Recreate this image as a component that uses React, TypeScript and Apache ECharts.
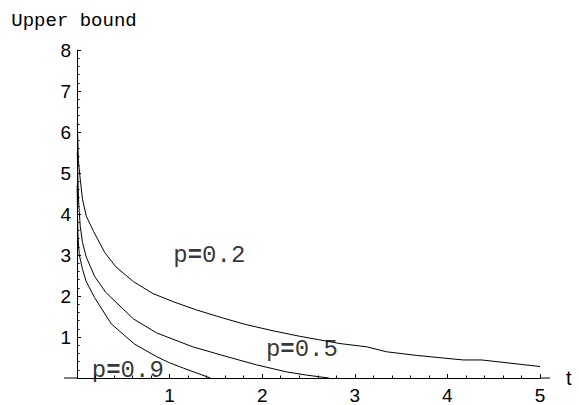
import React, { useEffect, useRef } from 'react';
import * as echarts from 'echarts';

// Curve p = 0.2
const p02T = [0.004, 0.015, 0.035, 0.06, 0.1, 0.18, 0.3, 0.42, 0.61, 0.82, 1.04, 1.29, 1.58, 1.83, 2.12, 2.4, 2.62, 2.84, 3.13, 3.34, 3.67, 4.17, 4.37, 5.0];
const p02Y = [6.2, 5.3, 4.85, 4.35, 3.95, 3.57, 3.06, 2.71, 2.35, 2.06, 1.86, 1.66, 1.46, 1.3, 1.15, 1.02, 0.93, 0.84, 0.76, 0.64, 0.55, 0.44, 0.44, 0.28];
// Curve p = 0.5
const p05T = [0.003, 0.01, 0.02, 0.035, 0.06, 0.1, 0.19, 0.31, 0.61, 0.86, 1.25, 1.62, 1.94, 2.26, 2.48, 2.72];
const p05Y = [5.5, 4.8, 4.2, 3.7, 3.3, 2.95, 2.48, 2.09, 1.44, 1.1, 0.76, 0.52, 0.32, 0.15, 0.07, 0];
// Curve p = 0.9
const p09T = [0.002, 0.006, 0.012, 0.025, 0.06, 0.1, 0.19, 0.37, 0.62, 0.86, 1.0, 1.15, 1.44];
const p09Y = [4.7, 3.9, 3.4, 3.0, 2.65, 2.35, 1.96, 1.32, 0.83, 0.52, 0.37, 0.24, 0];

// Curve annotations
const labelTexts = ['0.2', '0.5', '0.9'];
const labelT = [1.04, 2.04, 0.16];
const labelY = [3.0, 0.69, 0.19];

// Axes
const xMin = 0;
const xMax = 5;
const yMin = 0;
const yMax = 8;
const xAxisName = 't';
const yAxisName = 'Upper bound';

const zip = (t: number[], y: number[]) => t.map((v, i) => [v, y[i]]);

export default function App() {
  const ref = useRef<HTMLDivElement>(null);
  useEffect(() => {
    if (!ref.current) return;
    const chart = echarts.init(ref.current, null, { renderer: 'svg' });
    const lineStyle = { color: '#000', width: 1 };
    const mkLine = (name: string, t: number[], y: number[]) => ({
      name,
      type: 'line',
      data: zip(t, y),
      symbol: 'none',
      smooth: false,
      lineStyle,
      silent: true,
    });
    chart.setOption({
      animation: false,
      backgroundColor: '#fff',
      grid: { left: 77, right: 39, top: 50, bottom: 27, containLabel: false },
      xAxis: {
        type: 'value',
        min: xMin,
        max: xMax,
        interval: 1,
        name: xAxisName,
        nameLocation: 'end',
        nameGap: 26,
        nameTextStyle: { fontFamily: 'Liberation Sans', fontSize: 20, color: '#000', verticalAlign: 'middle' },
        axisLine: { show: true, onZero: false, lineStyle: { color: '#000', width: 1 } },
        axisTick: { show: true, inside: true, length: 4, lineStyle: { color: '#000' } },
        minorTick: { show: true, splitNumber: 5, length: 2.5, lineStyle: { color: '#000' } },
        axisLabel: {
          fontFamily: 'Liberation Sans',
          fontSize: 19,
          color: '#000',
          margin: 8,
          formatter: (v: number) => (v === 0 ? '' : String(v)),
        },
        splitLine: { show: false },
      },
      yAxis: {
        type: 'value',
        min: yMin,
        max: yMax,
        interval: 1,
        name: yAxisName,
        nameLocation: 'end',
        nameGap: 29,
        nameTextStyle: {
          fontFamily: 'Liberation Mono',
          fontSize: 19,
          color: '#000',
          verticalAlign: 'middle',
          align: 'center',
          padding: [0, 6, 0, 0],
        },
        axisLine: { show: true, onZero: false, lineStyle: { color: '#000', width: 1 } },
        axisTick: { show: true, inside: true, length: 4, lineStyle: { color: '#000' } },
        minorTick: { show: true, splitNumber: 5, length: 2.5, lineStyle: { color: '#000' } },
        axisLabel: {
          fontFamily: 'Liberation Sans',
          fontSize: 19,
          color: '#000',
          margin: 6,
          formatter: (v: number) => (v === 0 ? '' : String(v)),
        },
        splitLine: { show: false },
      },
      graphic: [
        { type: 'line', shape: { x1: 64, y1: 378, x2: 77, y2: 378 }, style: { stroke: '#000', lineWidth: 1 } },
        { type: 'line', shape: { x1: 540, y1: 378, x2: 550, y2: 378 }, style: { stroke: '#000', lineWidth: 1 } },
      ],
      series: [
        mkLine('p=0.2', p02T, p02Y),
        mkLine('p=0.5', p05T, p05Y),
        mkLine('p=0.9', p09T, p09Y),
        {
          name: 'labels',
          type: 'scatter',
          silent: true,
          symbol: 'circle',
          symbolSize: 0,
          itemStyle: { color: 'transparent' },
          data: labelTexts.map((s, i) => ({ value: [labelT[i], labelY[i]], text: s })),
          label: {
            show: true,
            position: [0, 0],
            align: 'left',
            verticalAlign: 'middle',
            formatter: (p: any) => '{n|p}{b|=}{n|' + labelTexts[p.dataIndex] + '}',
            rich: {
              b: { fontFamily: 'Liberation Mono', fontSize: 24, fontWeight: 'bold', color: '#000' },
              n: { fontFamily: 'Liberation Mono', fontSize: 24, color: '#000' },
            },
          },
        },
      ],
    });
    return () => chart.dispose();
  }, []);
  return <div ref={ref} style={{ position: 'absolute', left: 0, top: 0, width: 579, height: 405, background: '#fff' }} />;
}
